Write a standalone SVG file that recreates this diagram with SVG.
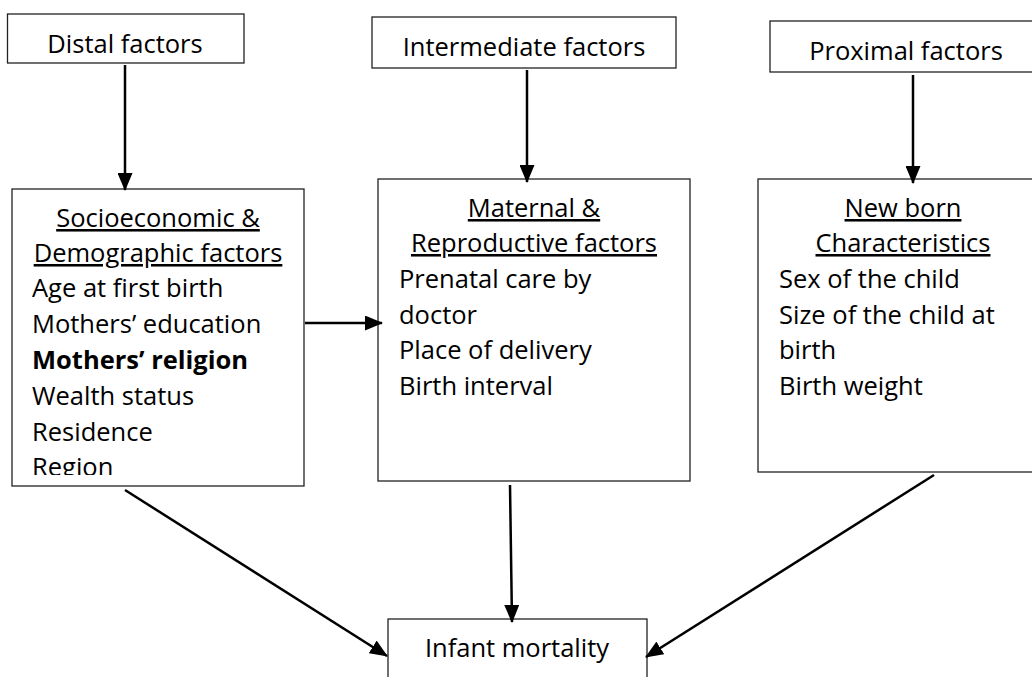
<svg xmlns="http://www.w3.org/2000/svg" width="1032" height="677" viewBox="0 0 1032 677">
<style>
.box{fill:#fff;stroke:#222;stroke-width:1.3}
.t{font-family:"Open Sans","Liberation Sans",sans-serif;font-size:25.5px;fill:#000}
.h{text-anchor:middle;text-decoration:underline}
.c{text-anchor:middle}
.b{font-weight:bold}
.con{stroke:#000;stroke-width:2.5;fill:none;marker-end:url(#ah)}
</style>
<defs>
<marker id="ah" markerUnits="userSpaceOnUse" markerWidth="18" markerHeight="15" refX="17" refY="7.5" orient="auto">
<path d="M0,0 L18,7.5 L0,15 Z" fill="#000"/>
</marker>
<clipPath id="clipL"><rect x="12" y="189" width="292" height="286"/></clipPath>
</defs>
<g id="distal">
<rect class="box" x="7.5" y="14" width="236.5" height="49"/>
<text class="t c" x="125" y="53">Distal factors</text>
</g>
<g id="intermediate">
<rect class="box" x="372" y="17" width="304" height="51"/>
<text class="t c" x="524" y="56">Intermediate factors</text>
</g>
<g id="proximal">
<rect class="box" x="770" y="21" width="280" height="51"/>
<text class="t c" x="906" y="60">Proximal factors</text>
</g>
<g id="socio">
<rect class="box" x="12" y="189" width="292" height="297"/>
<g clip-path="url(#clipL)">
<text class="t h" x="158" y="227">Socioeconomic &amp;</text>
<text class="t h" x="158" y="262">Demographic factors</text>
<text class="t" x="32" y="297">Age at first birth</text>
<text class="t" x="32" y="333">Mothers’ education</text>
<text class="t b" x="32" y="368.5">Mothers’ religion</text>
<text class="t" x="32" y="404.5">Wealth status</text>
<text class="t" x="32" y="440.5">Residence</text>
<text class="t" x="32" y="476">Region</text>
</g>
</g>
<g id="maternal">
<rect class="box" x="378" y="179" width="312" height="302"/>
<text class="t h" x="534" y="217">Maternal &amp;</text>
<text class="t h" x="534" y="252">Reproductive factors</text>
<text class="t" x="399" y="288">Prenatal care by</text>
<text class="t" x="399" y="324">doctor</text>
<text class="t" x="399" y="359">Place of delivery</text>
<text class="t" x="399" y="395">Birth interval</text>
</g>
<g id="newborn">
<rect class="box" x="758" y="179" width="290" height="293"/>
<text class="t h" x="903" y="217">New born</text>
<text class="t h" x="903" y="252">Characteristics</text>
<text class="t" x="779" y="288">Sex of the child</text>
<text class="t" x="779" y="324">Size of the child at</text>
<text class="t" x="779" y="359">birth</text>
<text class="t" x="779" y="395">Birth weight</text>
</g>
<g id="infant">
<rect class="box" x="388" y="619" width="259" height="70"/>
<text class="t c" x="517" y="657">Infant mortality</text>
</g>
<g id="connectors">
<line class="con" x1="125" y1="65" x2="125" y2="190"/>
<line class="con" x1="527" y1="70" x2="527" y2="182"/>
<line class="con" x1="913" y1="75" x2="913" y2="183"/>
<line class="con" x1="305" y1="323" x2="382" y2="323"/>
<line class="con" x1="510" y1="485" x2="512" y2="622"/>
<line class="con" x1="125" y1="490" x2="387" y2="656"/>
<line class="con" x1="934" y1="475" x2="646" y2="657"/>
</g>
</svg>
